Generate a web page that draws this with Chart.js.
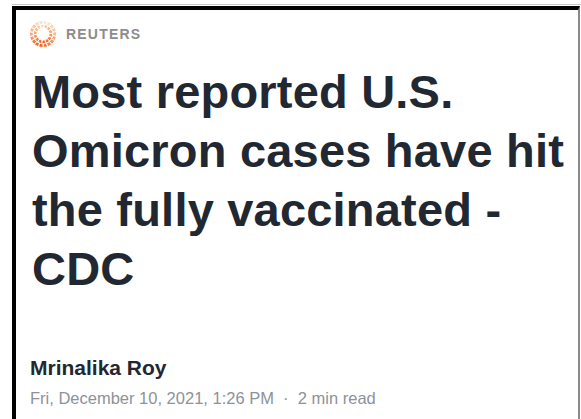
<!DOCTYPE html>
<html>
<head>
<meta charset="utf-8">
<script src="https://cdn.jsdelivr.net/npm/chart.js@4"></script>
<style>
  body { margin: 0; background: #fff; width: 581px; height: 419px; overflow: hidden; font-family: "Liberation Sans", Arial, sans-serif; }
  #frame { position: absolute; left: 12px; top: 6px; width: 562px; height: 420px; border-left: 4px solid #000; border-top: 4px solid #000; border-right: 2px solid #8a8a8a; }
  #topline { position: absolute; left: 12px; top: 4px; width: 569px; height: 1px; background: #c8c8c8; }
  #logo { position: absolute; left: 29px; top: 20px; }
  #brand { position: absolute; left: 66px; top: 25px; font-size: 14px; font-weight: bold; letter-spacing: 1.2px; color: #8c8c8c; line-height: 18px; }
  #headline { position: absolute; left: 32px; top: 62px; width: 545px; font-size: 47px; line-height: 59px; font-weight: bold; color: #222831; letter-spacing: 0.2px; }
  #author { position: absolute; left: 30px; top: 356px; font-size: 21px; font-weight: bold; color: #222831; line-height: 24px; }
  #date { position: absolute; left: 30px; top: 388px; font-size: 16.5px; color: #8d9299; line-height: 20px; }
</style>
</head>
<body>
<div id="topline"></div>
<div id="frame"></div>
<canvas id="logo" width="28" height="28"></canvas>
<div id="brand">REUTERS</div>
<div id="headline">Most reported U.S.<br>Omicron cases have hit<br>the fully vaccinated -<br>CDC</div>
<div id="author">Mrinalika Roy</div>
<div id="date">Fri, December 10, 2021, 1:26 PM &nbsp;·&nbsp; 2 min read</div>
<script>
// logo ring: equal dot segments, colours go from pale to deep orange
const outerDots = [1, 1, 1, 1, 1, 1, 1, 1, 1, 1, 1, 1, 1, 1, 1, 1, 1, 1];
const innerDots = [1, 1, 1, 1, 1, 1, 1, 1, 1, 1, 1, 1, 1, 1];
const outerColors = ['#f9c9a2', '#f7b98a', '#f5a774', '#f39560', '#f0824a', '#ee7136', '#ec6428', '#ee7136', '#f0824a',
                     '#f39560', '#f5a774', '#f7b98a', '#f9c9a2', '#fbd8ba', '#fce2ca', '#fde9d8', '#fce2ca', '#fbd8ba'];
const innerColors = ['#f5a774', '#f39560', '#f0824a', '#ee7136', '#ec6428', '#ee7136', '#f0824a',
                     '#f39560', '#f5a774', '#f7b98a', '#f9c9a2', '#fbd8ba', '#f9c9a2', '#f7b98a'];

new Chart(document.getElementById('logo').getContext('2d'), {
    type: 'doughnut',
    data: {
        datasets: [
            { data: outerDots, backgroundColor: outerColors, borderColor: '#fff', borderWidth: 1 },
            { data: innerDots, backgroundColor: innerColors, borderColor: '#fff', borderWidth: 1 }
        ]
    },
    options: {
        responsive: false,
        devicePixelRatio: 1,
        animation: false,
        cutout: '45%',
        rotation: 60,
        plugins: { legend: { display: false }, tooltip: { enabled: false } },
        events: []
    }
});
</script>
</body>
</html>
